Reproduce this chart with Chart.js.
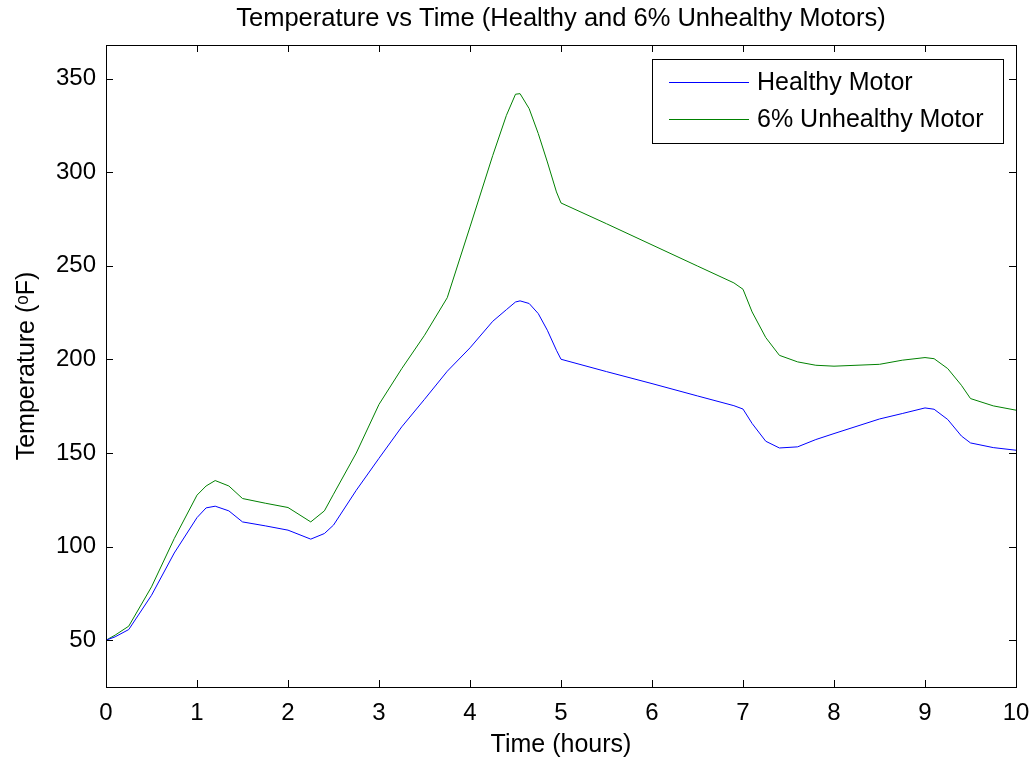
<!DOCTYPE html>
<html>
<head>
<meta charset="utf-8">
<script src="https://cdn.jsdelivr.net/npm/chart.js@4"></script>
<style>
  html, body { margin: 0; padding: 0; background: #fff; }
  #wrap { width: 1035px; height: 760px; }
</style>
</head>
<body>
<div id="wrap"><canvas id="tempChart" width="1035" height="760"></canvas></div>
<script>
// time axis (hours), shared by both series
const hours = [0, 0.1, 0.25, 0.5, 0.75, 1.0, 1.1, 1.2, 1.35, 1.5, 1.75, 2.0, 2.25, 2.4, 2.5,
  2.75, 3.0, 3.25, 3.5, 3.75, 4.0, 4.25, 4.4, 4.5, 4.55, 4.65, 4.75, 4.85, 4.95, 5.0,
  5.5, 6.0, 6.5, 6.9, 7.0, 7.1, 7.25, 7.4, 7.6, 7.8, 8.0, 8.5, 8.75, 9.0, 9.1, 9.25,
  9.4, 9.5, 9.75, 10];

const healthy = [50, 51.8, 55.7, 74, 96.6, 115.5, 120.7, 121.6, 119.1, 113.2, 111.1, 108.8, 104, 107, 111.5,
  130.1, 147.2, 164, 178.7, 193.7, 206.2, 220.4, 226.6, 230.7, 231.3, 229.9, 224.5, 215.6, 204.9, 200.1,
  193.5, 187.1, 180.5, 175.3, 173.5, 165.8, 156.3, 152.7, 153.3, 157.2, 160.4, 168.2, 171.1, 174.1, 173.4, 167.9,
  159.1, 155.4, 152.9, 151.5];

const unhealthy = [50, 52.7, 57.5, 78.5, 104.3, 127.5, 132.4, 135.3, 132.4, 125.7, 123.2, 120.9, 113.2, 119.1, 128,
  150, 176, 195.1, 212.9, 233, 270.8, 309, 330.4, 341.7, 342, 334, 320.7, 305.5, 289.5, 283.6,
  272.5, 261.2, 249.9, 240.9, 237.5, 225.4, 211.7, 202.2, 198.7, 196.9, 196.4, 197.4, 199.6, 201, 200.4, 195.1,
  186.2, 179.1, 175.2, 172.9];

const seriesNames = ['Healthy Motor', '6% Unhealthy Motor'];
const xTicks = [0, 1, 2, 3, 4, 5, 6, 7, 8, 9, 10];
const yTicks = [50, 100, 150, 200, 250, 300, 350];

const FONT = "'Liberation Sans', Arial, sans-serif";

function pts(vals) {
  return hours.map((h, i) => ({ x: h, y: vals[i] }));
}

// matlab-style box with inward ticks on all four sides
const boxPlugin = {
  id: 'boxTicks',
  afterDatasetsDraw(chart) {
    const { ctx, chartArea: a, scales } = chart;
    const len = 7;
    ctx.save();
    ctx.strokeStyle = '#000';
    ctx.lineWidth = 1;
    ctx.beginPath();
    xTicks.forEach(v => {
      const px = Math.round(scales.x.getPixelForValue(v)) + 0.5;
      ctx.moveTo(px, a.bottom); ctx.lineTo(px, a.bottom - len);
      ctx.moveTo(px, a.top); ctx.lineTo(px, a.top + len);
    });
    yTicks.forEach(v => {
      const py = Math.round(scales.y.getPixelForValue(v)) + 0.5;
      ctx.moveTo(a.left, py); ctx.lineTo(a.left + len, py);
      ctx.moveTo(a.right, py); ctx.lineTo(a.right - len, py);
    });
    ctx.stroke();
    ctx.strokeRect(Math.round(a.left) + 0.5, Math.round(a.top) + 0.5,
      Math.round(a.right - a.left), Math.round(a.bottom - a.top));

    // legend box in the top-right corner
    const lx = 652, ly = 59, lw = 351, lh = 84;
    ctx.fillStyle = '#fff';
    ctx.fillRect(lx, ly, lw, lh);
    ctx.strokeRect(lx + 0.5, ly + 0.5, lw, lh);
    ctx.font = '25px ' + FONT;
    ctx.textBaseline = 'middle';
    chart.data.datasets.forEach((ds, i) => {
      const y = ly + 23 + i * 37;
      ctx.strokeStyle = ds.borderColor;
      ctx.beginPath();
      ctx.moveTo(lx + 17, y + 0.5); ctx.lineTo(lx + 97, y + 0.5);
      ctx.stroke();
      ctx.fillStyle = '#000';
      ctx.fillText(ds.label, lx + 105, y + 1);
    });
    ctx.restore();
  }
};

new Chart(document.getElementById('tempChart'), {
  type: 'line',
  data: {
    datasets: [
      { label: seriesNames[0], data: pts(healthy), borderColor: 'rgb(0,0,255)', borderWidth: 1,
        pointRadius: 0, tension: 0, fill: false },
      { label: seriesNames[1], data: pts(unhealthy), borderColor: 'rgb(0,128,0)', borderWidth: 1,
        pointRadius: 0, tension: 0, fill: false }
    ]
  },
  options: {
    responsive: false,
    animation: false,
    layout: { padding: { left: 0, right: 19, top: 0, bottom: 0 } },
    plugins: {
      legend: { display: false },
      tooltip: { enabled: false },
      title: {
        display: true,
        fullSize: false,
        text: 'Temperature vs Time (Healthy and 6% Unhealthy Motors)',
        color: '#000',
        font: { family: FONT, size: 25.5, weight: 'normal', lineHeight: 1.2 },
        padding: { top: 4, bottom: 10.4 }
      }
    },
    scales: {
      x: {
        type: 'linear',
        min: 0, max: 10,
        afterFit(scale) { scale.height = 73; scale.paddingRight = 0; scale.paddingLeft = 0; },
        afterBuildTicks(scale) { scale.ticks = xTicks.map(v => ({ value: v })); },
        grid: { display: false },
        border: { display: false },
        ticks: { color: '#000', padding: 4, maxRotation: 0, font: { family: FONT, size: 24 } },
        title: { display: true, text: 'Time (hours)', color: '#000',
          font: { family: FONT, size: 25 }, padding: { top: 0, bottom: 0 } }
      },
      y: {
        type: 'linear',
        min: 25, max: 368,
        afterFit(scale) { scale.width = 106; },
        afterBuildTicks(scale) { scale.ticks = yTicks.map(v => ({ value: v })); },
        grid: { display: false },
        border: { display: false },
        ticks: { color: '#000', padding: 2, font: { family: FONT, size: 24 } },
        title: { display: true, text: 'Temperature (ᵒF)', color: '#000',
          font: { family: FONT, size: 25 }, padding: { top: 12, bottom: 0 } }
      }
    }
  },
  plugins: [boxPlugin]
});
</script>
</body>
</html>
